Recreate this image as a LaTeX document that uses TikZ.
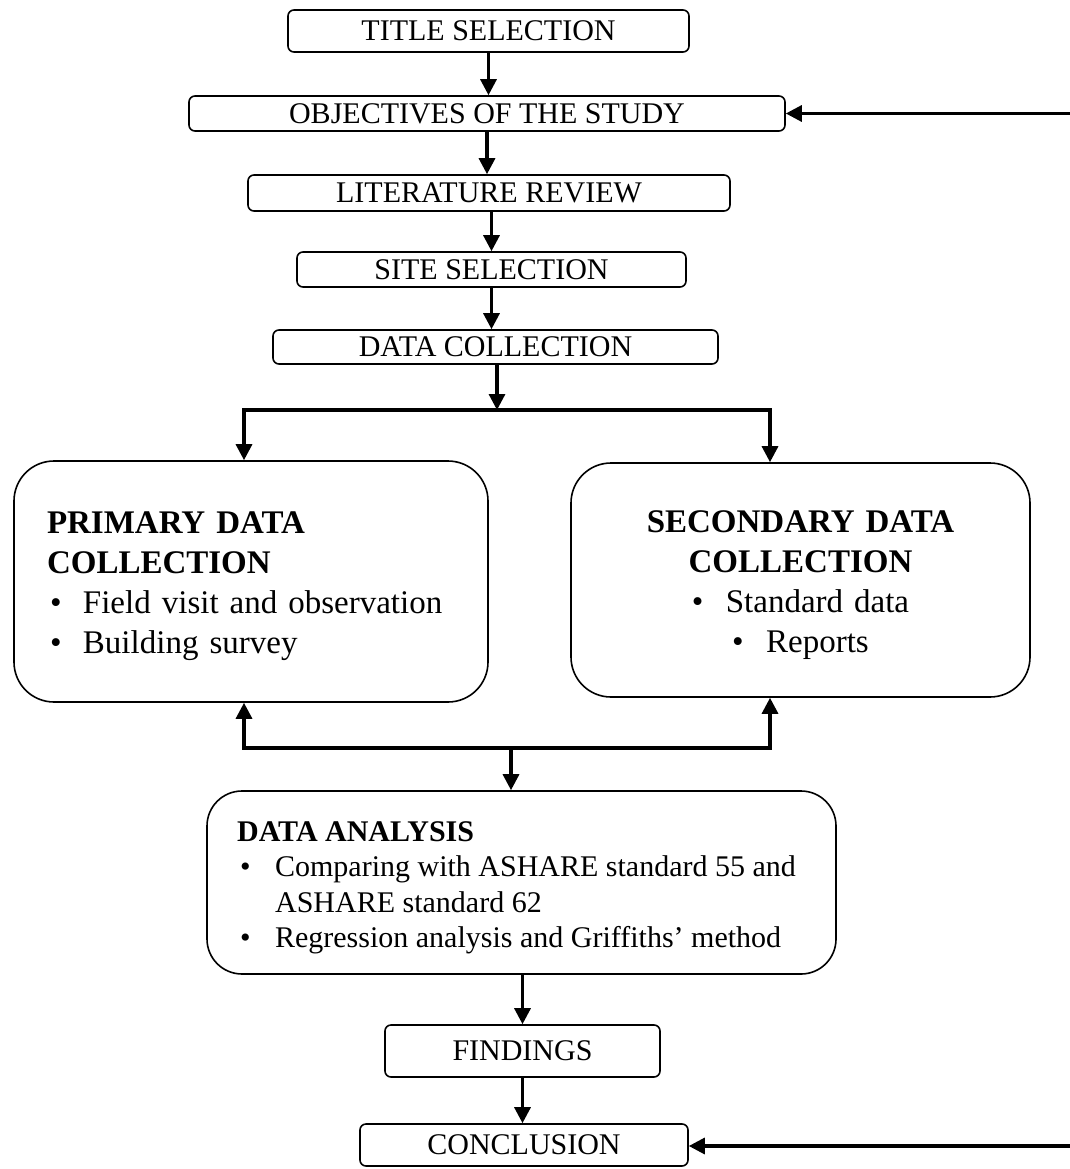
\documentclass[tikz,border=0pt]{standalone}
\usepackage{fontspec}
\setmainfont{Liberation Serif}
\usetikzlibrary{positioning, calc, arrows.meta}

\begin{document}
\begin{tikzpicture}[x=1pt,y=-1pt,
    box/.style={draw, line width=1.6pt, rounded corners=6pt, inner sep=0pt,
        font=\fontsize{30}{36}\selectfont},
    bigbox/.style={draw, line width=1.6pt, rounded corners=40pt, inner sep=0pt},
    link/.style={line width=3.2pt, -{Triangle[length=16pt,width=16pt]}},
    biarrow/.style={line width=3.2pt, {Triangle[length=16pt,width=16pt]}-{Triangle[length=16pt,width=16pt]}}]
    \useasboundingbox (0,0) rectangle (1070,1169);

    % Steps of the study
    \node[box, minimum width=401pt, minimum height=42pt] (title) at (488.5,31) {TITLE SELECTION};
    \node[box, minimum width=596pt, minimum height=35pt] (obj) at (487,113.5) {OBJECTIVES OF THE STUDY};
    \node[box, minimum width=482pt, minimum height=36pt] (lit) at (489,193) {LITERATURE REVIEW};
    \node[box, minimum width=389pt, minimum height=35pt] (site) at (491.5,269.5) {SITE SELECTION};
    \node[box, minimum width=445pt, minimum height=34pt] (dc) at (495.5,347) {DATA COLLECTION};

    % Data collection boxes
    \node[bigbox, minimum width=474pt, minimum height=241pt, text width=408pt, align=left,
        font=\fontsize{33}{40}\selectfont] (prim) at (251,581.5)
        {\rule{0pt}{31pt}\textbf{PRIMARY DATA}\\
         \textbf{COLLECTION}\\
         \makebox[36pt][l]{\hspace{3pt}\textbullet}Field visit and observation\\
         \makebox[36pt][l]{\hspace{3pt}\textbullet}Building survey};
    \node[bigbox, minimum width=459pt, minimum height=234pt, text width=400pt, align=center,
        font=\fontsize{33}{40}\selectfont] (sec) at (800.5,580)
        {\rule{0pt}{32pt}\textbf{SECONDARY DATA}\\
         \textbf{COLLECTION}\\
         \makebox[34pt][l]{\textbullet}Standard data\\
         \makebox[34pt][l]{\textbullet}Reports};

    % Analysis
    \node[bigbox, rounded corners=35pt, minimum width=629pt, minimum height=183pt,
        align=left, font=\fontsize{30}{35.5}\selectfont] (da) at (521.5,882.5)
        {\rule{0pt}{30pt}\textbf{DATA ANALYSIS}\\
         \makebox[38pt][l]{\hspace{3pt}\textbullet}Comparing with ASHARE standard 55 and\makebox[10pt]{}\\
         \hspace*{38pt}ASHARE standard 62\\
         \makebox[38pt][l]{\hspace{3pt}\textbullet}Regression analysis and Griffiths' method};

    \node[box, minimum width=275pt, minimum height=52pt] (find) at (522.5,1051) {FINDINGS};
    \node[box, minimum width=328pt, minimum height=42pt] (concl) at (524,1145) {CONCLUSION};

    % Branch points
    \coordinate (split) at (497,410);
    \coordinate (splitL) at (244,410);
    \coordinate (splitR) at (770,410);
    \coordinate (joinL) at (244,748);
    \coordinate (joinR) at (770,748);
    \coordinate (joinM) at (511,748);
    \coordinate (backtop) at (1070,113.5);
    \coordinate (backbot) at (1070,1146);

    % Connectors
    \draw[link] (title.south) -- (title.south |- obj.north);
    \draw[link] (obj.south) -- (obj.south |- lit.north);
    \draw[link] (lit.south -| site) -- (site.north);
    \draw[link] (site.south) -- (site.south |- dc.north);
    \draw[link] (split |- dc.south) -- (split);
    \draw[biarrow] (splitL |- prim.north) -- (splitL) -- (splitR) -- (splitR |- sec.north);
    \draw[biarrow] (joinL |- prim.south) -- (joinL) -- (joinR) -- (joinR |- sec.south);
    \draw[link] (joinM) -- (joinM |- da.north);
    \draw[link] (find.north |- da.south) -- (find.north);
    \draw[link] (find.south) -- (find.south |- concl.north);

    % Feedback arrows
    \draw[link] (backtop) -- (obj.east);
    \draw[link] (backbot) -- (backbot -| concl.east);
\end{tikzpicture}
\end{document}
